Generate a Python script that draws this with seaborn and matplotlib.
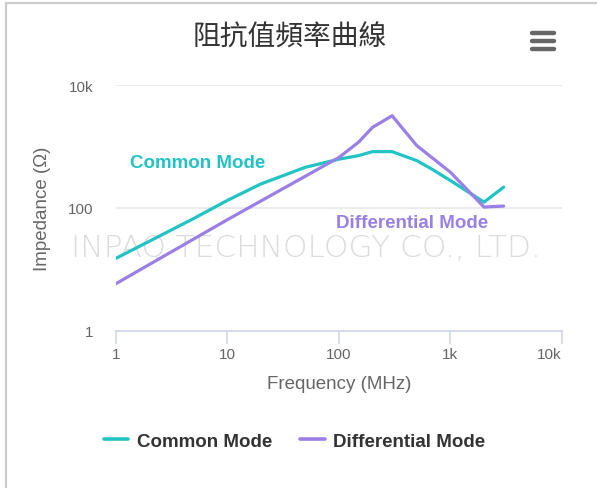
import numpy as np
import pandas as pd
import matplotlib
matplotlib.use("Agg")
import matplotlib.pyplot as plt
import seaborn as sns
from matplotlib.lines import Line2D

# ---------------- data ----------------
title = "阻抗值頻率曲線"
series_names = ["Common Mode", "Differential Mode"]
cm_freq = [1, 5, 10, 20, 50, 100, 150, 200, 300, 500, 700, 1000, 2000, 3000]
cm_imp = [15, 67, 132, 245, 457, 620, 708, 822, 822, 587, 415, 278, 124, 217]
dm_freq = [1, 10, 100, 150, 200, 300, 500, 1000, 2000, 3000]
dm_imp = [5.8, 64, 660, 1170, 2040, 3160, 1030, 380, 103, 107]
x_ticks = [1, 10, 100, 1000, 10000]
x_tick_labels = ["1", "10", "100", "1k", "10k"]
y_ticks = [1, 100, 10000]
y_tick_labels = ["1", "100", "10k"]
x_title = "Frequency (MHz)"
y_title = "Impedance (Ω)"
watermark = "INPAQ TECHNOLOGY CO., LTD."

colors = {"Common Mode": "#22c3c4", "Differential Mode": "#9a80e6"}

df = pd.concat([
    pd.DataFrame({"freq": cm_freq, "imp": cm_imp, "series": series_names[0]}),
    pd.DataFrame({"freq": dm_freq, "imp": dm_imp, "series": series_names[1]}),
], ignore_index=True)

sns.set_theme(style="white")
plt.rcParams["font.family"] = ["Liberation Sans", "DejaVu Sans"]

W, H = 597, 489
fig = plt.figure(figsize=(W / 100, H / 100), dpi=100)

def fx(px):
    return px / W

def fy(py):
    return 1 - py / H

ax = fig.add_axes([fx(115.7), fy(331.7), fx(562) - fx(115.7), fy(86) - fy(331.7)])
ax.patch.set_visible(False)

sns.lineplot(data=df, x="freq", y="imp", hue="series", palette=colors,
             estimator=None, sort=False, linewidth=2.3, ax=ax, legend=False,
             zorder=3)
ax.set_xscale("log")
ax.set_yscale("log")
ax.set_xlim(1, 10000)
ax.set_ylim(1, 10000)

ax.set_xticks(x_ticks)
ax.set_xticklabels(x_tick_labels)
ax.set_yticks(y_ticks)
ax.set_yticklabels(y_tick_labels)
ax.minorticks_off()
ax.xaxis.set_minor_locator(matplotlib.ticker.NullLocator())
ax.yaxis.set_minor_locator(matplotlib.ticker.NullLocator())
xl = ax.get_xticklabels()
xl[-1].set_horizontalalignment("right")

for s in ["top", "right", "left"]:
    ax.spines[s].set_visible(False)
ax.spines["bottom"].set_color("#ccd6eb")
ax.spines["bottom"].set_linewidth(1.2)
ax.tick_params(axis="x", length=9.5, width=1.1, color="#ccd6eb", pad=2,
               labelsize=11, labelcolor="#666666", direction="out", bottom=True)
ax.tick_params(axis="y", length=0, pad=16, labelsize=11, labelcolor="#666666")
ax.grid(axis="y", color="#e6e6e6", linewidth=1.1)
ax.grid(axis="x", visible=False)
ax.set_axisbelow(True)

ax.set_xlabel(x_title, fontsize=13.5, color="#666666", labelpad=10)
ax.set_ylabel(y_title, fontsize=13.5, color="#666666", labelpad=12)

# annotations
fig.text(fx(198), fy(164), "Common Mode", color=colors["Common Mode"],
         fontsize=13.5, fontweight="bold", ha="center", va="center")
fig.text(fx(412), fy(224), "Differential Mode", color=colors["Differential Mode"],
         fontsize=13.5, fontweight="bold", ha="center", va="center")

# watermark
fig.text(fx(306), fy(249), watermark, color="#dcdcdc", fontsize=22.5,
         family=["DejaVu Sans"], fontweight="light", ha="center", va="center",
         zorder=-1)

# title
fig.text(fx(290), fy(38), title, fontsize=20, color="#333333",
         family=["Noto Sans CJK TC", "DejaVu Sans"], ha="center", va="center")

# menu icon
for yy in [33.5, 41.5, 49.5]:
    fig.add_artist(Line2D([fx(532), fx(554)], [fy(yy), fy(yy)], color="#666666",
                          lw=3.2, solid_capstyle="round"))

# frame borders
fig.add_artist(Line2D([fx(5.5), fx(5.5)], [fy(4), fy(489)], color="#cccccc", lw=1.6))
fig.add_artist(Line2D([fx(5.5), fx(597)], [fy(4), fy(4)], color="#cccccc", lw=1.6))

# legend
handles = [Line2D([0], [0], color=colors[n], lw=2.6) for n in series_names]
leg = fig.legend(handles, series_names, loc="center", bbox_to_anchor=(fx(294.5), fy(442)),
                 ncol=2, frameon=False, handlelength=1.3, handletextpad=0.45,
                 columnspacing=1.5, prop={"size": 13.5, "weight": "bold"})
for t in leg.get_texts():
    t.set_color("#333333")

fig.savefig("out.png", dpi=100)
